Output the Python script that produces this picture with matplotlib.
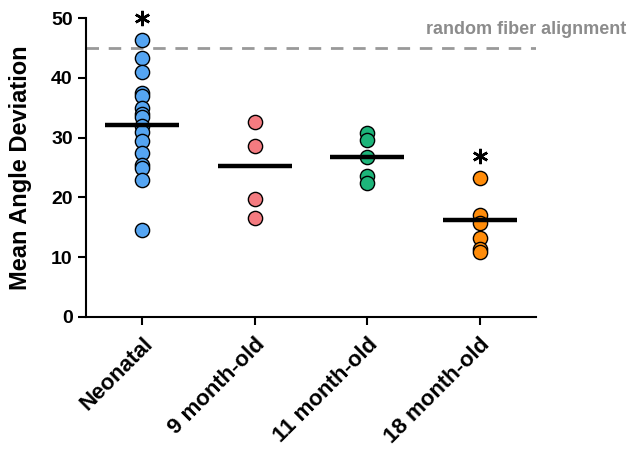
import matplotlib.pyplot as plt
import numpy as np

plt.rcParams['font.family'] = ['Liberation Sans', 'DejaVu Sans']
plt.rcParams['font.weight'] = 'bold'

# data
groups = ['Neonatal', '9 month-old', '11 month-old', '18 month-old']
neonatal = [46.3, 43.4, 41.0, 37.5, 37.0, 35.0, 34.0, 33.5, 32.0, 31.0, 29.5, 27.5, 25.5, 25.0, 23.0, 14.5]
month9 = [32.6, 28.6, 19.7, 16.6]
month11 = [30.8, 29.6, 26.8, 23.6, 22.5]
month18 = [23.2, 17.0, 15.8, 13.2, 11.4, 10.8]
means = [32.2, 25.2, 26.7, 16.2]
colors = ['#55A5F2', '#F47B80', '#1DB57A', '#FF8C0A']
significant = [True, False, False, True]
random_alignment = 45

values = [neonatal, month9, month11, month18]

fig = plt.figure(figsize=(6.29, 4.5), dpi=100)
ax = fig.add_axes([0.1367, 0.2956, 0.7154, 0.664])

for i, (vals, col) in enumerate(zip(values, colors)):
    ax.scatter(np.full(len(vals), i), vals, s=105, color=col,
               edgecolor='black', linewidth=1.0, zorder=3)
    ax.plot([i - 0.33, i + 0.33], [means[i], means[i]], color='black',
            lw=3.2, solid_capstyle='butt', zorder=4)
    if significant[i]:
        ax.plot(i, max(vals) + 3.8, marker=(6, 2, 0), markersize=11,
                color='black', mew=1.8, zorder=4, clip_on=False)

# random alignment reference line
ax.axhline(random_alignment, color='#999999', lw=2, dashes=(4.5, 3.5), zorder=1)
ax.text(0.995, 0.935, 'random fiber alignment', transform=fig.transFigure,
        ha='right', va='center', color='#8c8c8c', fontsize=13, fontweight='bold')

ax.set_xlim(-0.5, 3.5)
ax.set_ylim(0, 50)
ax.set_yticks(range(0, 51, 10))
ax.set_xticks(range(len(groups)))
ax.set_xticklabels(groups, rotation=45, ha='right', rotation_mode='anchor',
                   fontsize=16, fontweight='bold')
ax.tick_params(axis='y', labelsize=14, width=1.5, length=6, direction='out')
ax.tick_params(axis='x', width=1.5, length=6, direction='out', pad=6)
ax.set_ylabel('Mean Angle Deviation', fontsize=17, fontweight='bold')
ax.yaxis.set_label_coords(-0.12, 0.5)

for side in ['top', 'right']:
    ax.spines[side].set_visible(False)
for side in ['left', 'bottom']:
    ax.spines[side].set_linewidth(1.5)

fig.savefig('out.png', dpi=100)
